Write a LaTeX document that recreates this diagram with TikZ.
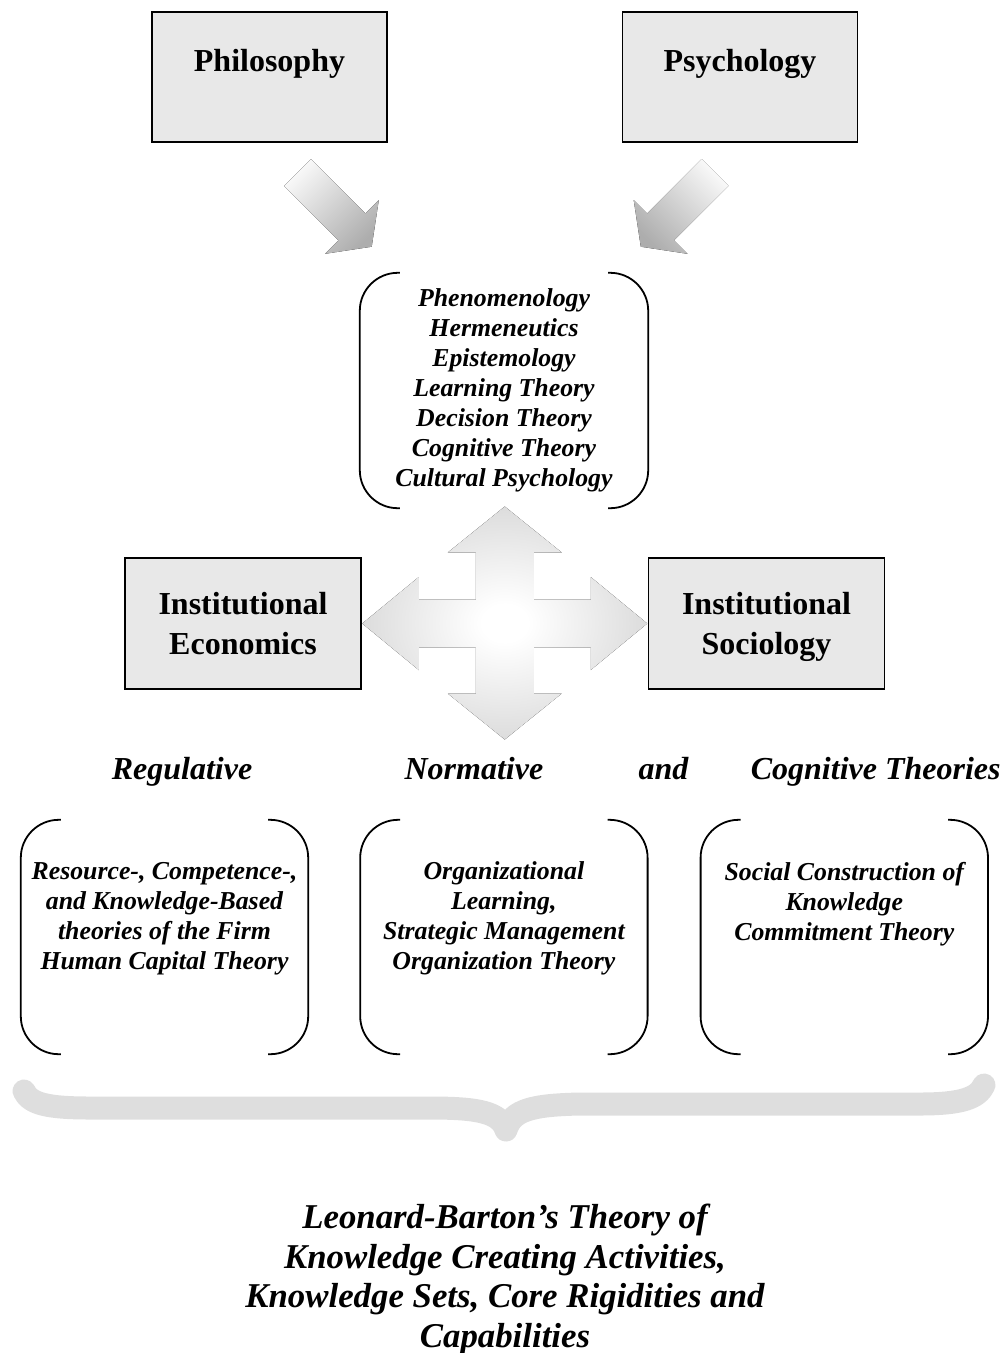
\documentclass[tikz,border=0pt]{standalone}
\usepackage{fontspec}
\setmainfont{Liberation Serif}
\usetikzlibrary{positioning,calc}

\definecolor{boxgray}{gray}{0.91}
\definecolor{bracegray}{gray}{0.87}
\definecolor{arrowgray}{gray}{0.68}
\definecolor{arrowlight}{gray}{0.97}
\definecolor{crossgray}{gray}{0.74}
\pgfdeclareradialshading{crossglow}{\pgfpoint{0bp}{0bp}}{color(0bp)=(white); color(4bp)=(white); color(32bp)=(crossgray!70!white); color(50bp)=(crossgray); color(75bp)=(crossgray)}

\begin{document}
\begin{tikzpicture}[
  x=1pt, y=-1pt,
  node distance=10pt,
  discipline/.style={draw, fill=boxgray, line width=1.5pt, inner sep=0pt, font=\fontsize{32}{40}\selectfont\bfseries},
  frame/.style={inner sep=0pt, minimum width=287pt, minimum height=234pt},
  theories/.style={font=\fontsize{25.8}{30}\selectfont\bfseries\itshape, align=center, inner sep=0pt},
  pillar/.style={font=\fontsize{32}{40}\selectfont\bfseries\itshape, inner sep=0pt},
  bracket/.style={line width=1.8pt, rounded corners=38pt},
  feeder/.style={top color=arrowlight, bottom color=arrowgray}
]
  \useasboundingbox (0,0) rectangle (1004,1353);

  \node (phil) at (269.5,77) [discipline, minimum width=235pt, text height=59pt, text depth=71pt] {Philosophy};
  \node (psy) [discipline, right=234pt of phil, minimum width=235pt, text height=59pt, text depth=71pt] {Psychology};

  \fill [feeder, shading angle=45] (310.9,159.1) -- (365.3,213.5) -- (378.8,200) -- (371.7,246.7) -- (325,253.8) -- (338.5,240.3) -- (284.1,185.9) -- cycle;
  \fill [feeder, shading angle=-45] (701.6,159.1) -- (647.2,213.5) -- (633.7,200) -- (640.8,246.7) -- (687.5,253.8) -- (674,240.3) -- (728.4,185.9) -- cycle;

  \node (mid) at (504,390.5) [frame, minimum width=288pt, minimum height=235pt, theories] {Phenomenology\\Hermeneutics\\Epistemology\\Learning Theory\\Decision Theory\\Cognitive Theory\\Cultural Psychology};

  \node (econ) at (243,623.5) [discipline, align=center, text depth=0pt, minimum width=236pt, minimum height=131pt] {Institutional\\Economics};
  \node (socio) [discipline, align=center, text depth=0pt, right=286pt of econ, minimum width=236pt, minimum height=131pt] {Institutional\\Sociology};

  \coordinate (hub) at ($(econ.east)!.5!(socio.west)$);
  \fill [shading=crossglow, shift={(hub)}] (0,-117) -- (57,-71) -- (29,-71) -- (29,-24) -- (86,-24) -- (86,-46.5) -- (142.5,0) -- (86,46.5) -- (86,24) -- (29,24) -- (29,70) -- (57,70) -- (0,116) -- (-57,70) -- (-29,70) -- (-29,24) -- (-86,24) -- (-86,46.5) -- (-142.5,0) -- (-86,-46.5) -- (-86,-24) -- (-29,-24) -- (-29,-71) -- (-57,-71) -- cycle;

  \node (reg) at (182,779) [pillar, anchor=base] {Regulative};
  \node (norm) [pillar, base right=152pt of reg] {Normative};
  \node (andw) [pillar, base right=95pt of norm] {and};
  \node (cog) [pillar, base right=62pt of andw] {Cognitive Theories};

  \node (resframe) at (164.5,937) [frame] {};
  \node (orgframe) [frame, right=52pt of resframe] {};
  \node (conframe) [frame, right=53pt of orgframe] {};

  \node (restext) [theories, below=42pt of resframe.north] {Resource-, Competence-,\\and Knowledge-Based\\theories of the Firm\\Human Capital Theory};
  \node (orgtext) [theories, below=42pt of orgframe.north] {Organizational\\Learning,\\Strategic Management\\Organization Theory};
  \node (context) [theories, below=42pt of conframe.north] {Social Construction of\\Knowledge\\Commitment Theory};

  \foreach \f in {mid, resframe, orgframe, conframe} {
    \draw [bracket] ($(\f.north west)+(40,0)$) -- (\f.north west) -- (\f.south west) -- ($(\f.south west)+(40,0)$);
    \draw [bracket] ($(\f.north east)+(-40,0)$) -- (\f.north east) -- (\f.south east) -- ($(\f.south east)+(-40,0)$);
  }

  \draw [bracegray, line width=23pt, line cap=round, line join=round]
    (24,1091) .. controls (30,1104) and (48,1108) .. (90,1108) -- (430,1108)
    .. controls (478,1108) and (500,1112) .. (506,1130)
    .. controls (512,1110) and (532,1105) .. (580,1104) -- (920,1104)
    .. controls (962,1104) and (978,1098) .. (984,1085);

  \node (leonard) at (505,1279.5) [font=\fontsize{34.8}{39.7}\selectfont\bfseries\itshape, align=center] {Leonard-Barton’s Theory of\\Knowledge Creating Activities,\\Knowledge Sets, Core Rigidities and\\Capabilities};

\end{tikzpicture}
\end{document}
